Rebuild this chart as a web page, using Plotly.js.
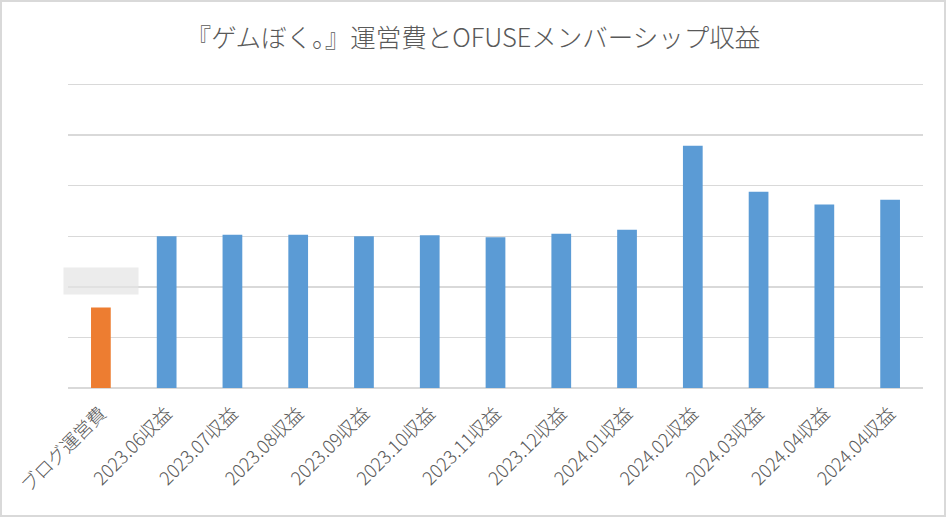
<!DOCTYPE html>
<html>
<head>
<meta charset="utf-8">
<script src="https://cdn.plot.ly/plotly-3.0.1.min.js"></script>
<style>
  html, body { margin: 0; padding: 0; background: #fff; }
  #chart { width: 942px; height: 513px; border: 2px solid #d9d9d9; }
</style>
</head>
<body>
<div id="chart"></div>
<script>
'use strict';

// labels (the last month appears twice in the source)
const categories = [
    'ブログ運営費', '2023.06収益', '2023.07収益', '2023.08収益', '2023.09収益',
    '2023.10収益', '2023.11収益', '2023.12収益', '2024.01収益', '2024.02収益',
    '2024.03収益', '2024.04収益', '2024.04収益',
];
// heights in gridline units (the axis has no labels)
const values = [1.59, 3.00, 3.03, 3.03, 3.00, 3.02, 2.98, 3.05, 3.13, 4.79, 3.88, 3.63, 3.72];
const kinds = ['cost', 'rev', 'rev', 'rev', 'rev', 'rev', 'rev', 'rev', 'rev', 'rev', 'rev', 'rev', 'rev'];

const COLORS = { cost: '#ed7d31', rev: '#5b9bd5' };
const TEXT = '#595959';
const FONT = '"Noto Sans CJK JP", "Noto Sans", sans-serif';

const idx = categories.map((_, i) => i);

Plotly.newPlot('chart', [{
    x: idx, y: values, type: 'bar',
    marker: { color: kinds.map(k => COLORS[k]) },
    hoverinfo: 'skip',
}], {
    width: 942, height: 513,
    margin: { l: 66, r: 21, t: 80, b: 127 },
    paper_bgcolor: '#fff', plot_bgcolor: '#fff',
    font: { family: FONT, color: TEXT },
    title: {
        text: '『ゲムぼく。』運営費とOFUSEメンバーシップ収益',
        font: { size: 25.5, color: TEXT, family: FONT, weight: 300 },
        x: 0.5, xanchor: 'center', y: 1 - 36 / 513, yanchor: 'middle', yref: 'container',
    },
    bargap: 0.7,
    showlegend: false,
    xaxis: {
        range: [-0.5, categories.length - 0.5],
        tickvals: idx, ticktext: categories, tickangle: -45,
        tickfont: { size: 18.5, color: TEXT, family: FONT, weight: 300 },
        ticklabelstandoff: 10,
        showgrid: false, zeroline: false, showline: false, ticks: '',
        fixedrange: true,
    },
    yaxis: {
        range: [0, 6.05], dtick: 1,
        showticklabels: false, ticks: '',
        gridcolor: '#d9d9d9', gridwidth: 1.5,
        zeroline: true, zerolinecolor: '#d9d9d9', zerolinewidth: 1.5,
        fixedrange: true,
    },
    // blurred-out data label above the cost bar
    annotations: [{
        x: idx[0], y: values[0], xref: 'x', yref: 'y',
        yanchor: 'bottom', yshift: 13, text: ' ', showarrow: false,
        width: 72, height: 24, bgcolor: 'rgba(228,228,228,0.7)',
    }],
}, { displayModeBar: false, staticPlot: true });
</script>
</body>
</html>
